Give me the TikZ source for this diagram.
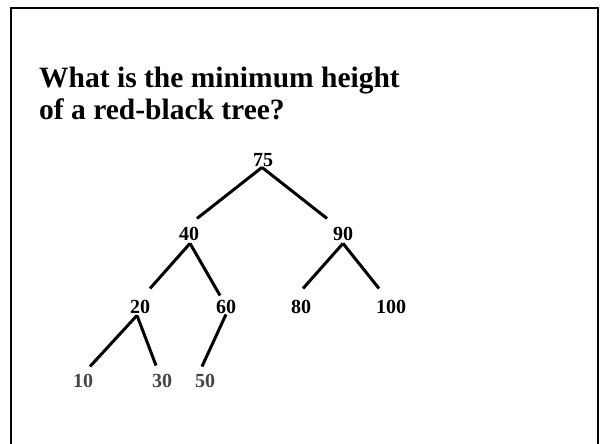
\documentclass[tikz,border=0pt]{standalone}
\usepackage{fontspec}
\setmainfont{Liberation Serif}
\usetikzlibrary{calc}
\definecolor{leafgray}{HTML}{454545}

\begin{document}
\begin{tikzpicture}[x=1pt, y=-1pt,
  key/.style={font=\fontsize{20}{20}\selectfont\bfseries, inner sep=0pt,
    anchor=base, text=black},
  leaf/.style={key, text=leafgray},
  edge/.style={line width=3pt, black},
]
\useasboundingbox (0,0) rectangle (602,444);

% Frame, open at the bottom
\draw[line width=2.2pt] (11,444) |- (598,8) -- (598,444);

% Title
\node[font=\fontsize{29.5}{32}\selectfont\bfseries, align=left,
      anchor=base west, inner sep=0pt] (title) at (39,119)
  {What is the minimum height\\of a red-black tree?};

% Keys
\node[key] (n75) at (263,166) {75};
\node[key] (n40) at (189,240) {40};
\node[key] (n90) at (343,240) {90};
\node[key] (n20) at (140,313) {20};
\node[key] (n60) at (226,313) {60};
\node[key] (n80) at (301,313) {80};
\node[key] (n100) at (391,313) {100};
\node[leaf] (n10) at (83,387) {10};
\node[leaf] (n30) at (162,387) {30};
\node[leaf] (n50) at (205,387) {50};

% Edges
\draw[edge] ([shift={(-1,1)}]n75.south) -- ([shift={(8,-8)}]n40.north);
\draw[edge] ([shift={(-1,1)}]n75.south) -- ([shift={(-16,-8)}]n90.north);
\draw[edge] ([shift={(1,3)}]n40.south) -- ([shift={(10,-11)}]n20.north);
\draw[edge] ([shift={(1,3)}]n40.south) -- ([shift={(-6,-4)}]n60.north);
\draw[edge] ([shift={(0,3)}]n90.south) -- ([shift={(2,-11)}]n80.north);
\draw[edge] ([shift={(0,3)}]n90.south) -- ([shift={(-12,-11)}]n100.north);
\draw[edge] ([shift={(-3,2)}]n20.south) -- ([shift={(7,-7)}]n10.north);
\draw[edge] ([shift={(-3,2)}]n20.south) -- ([shift={(-6,-8)}]n30.north);
\draw[edge] ([shift={(0,1)}]n60.south) -- ([shift={(-3,-7)}]n50.north);

\end{tikzpicture}
\end{document}
